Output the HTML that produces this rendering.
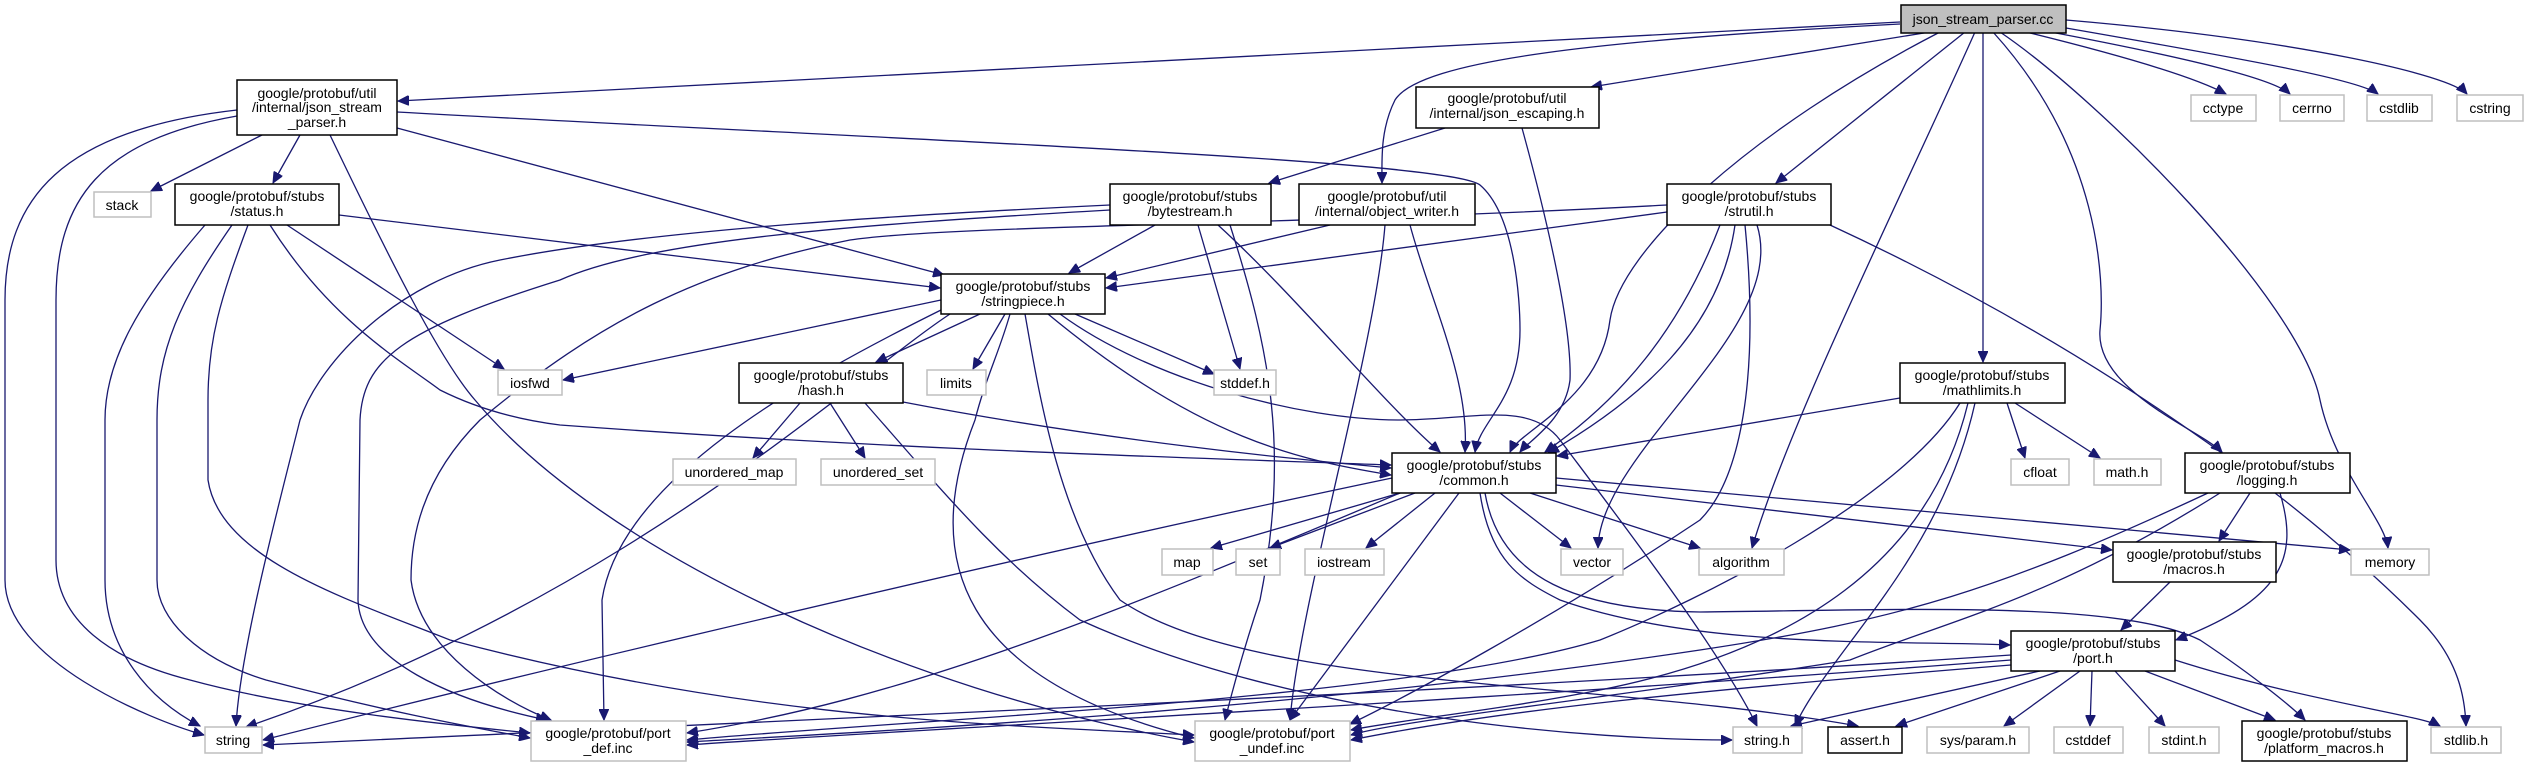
<!DOCTYPE html>
<html><head><meta charset="utf-8"><style>
html,body{margin:0;padding:0;background:#fff;}
svg{display:block;}
text{font-family:"Liberation Sans",sans-serif;font-size:14px;fill:#000;text-anchor:middle;}
.e{fill:none;stroke:#191970;stroke-width:1.3;marker-end:url(#a);}
.n{fill:#fff;stroke:#000;stroke-width:1.5;}
.g{fill:#fff;stroke:#bfbfbf;stroke-width:1.5;}
</style></head><body>
<svg width="2530" height="767" viewBox="0 0 2530 767" xmlns="http://www.w3.org/2000/svg">
<defs><marker id="a" markerUnits="userSpaceOnUse" markerWidth="12" markerHeight="10" refX="11" refY="5" orient="auto"><path d="M0,0 L11,5 L0,10 z" fill="#191970" stroke="#191970"/></marker></defs>

<!-- edges from cc -->
<path class="e" d="M1900,22 L398,101"/>
<path class="e" d="M1900,24 C1600,40 1420,60 1395,100 C1380,130 1382,160 1382,183"/>
<path class="e" d="M1930,32 L1591,87"/>
<path class="e" d="M1940,32 C1750,130 1620,250 1610,320 C1600,400 1520,430 1510,452"/>
<path class="e" d="M1965,32 L1776,183"/>
<path class="e" d="M1975,32 C1900,200 1790,420 1752,548"/>
<path class="e" d="M1983,32 L1983,362"/>
<path class="e" d="M1993,32 C2100,150 2105,280 2100,330 C2095,390 2200,430 2222,452"/>
<path class="e" d="M2000,32 C2100,100 2300,300 2320,400 C2335,470 2385,520 2388,548"/>
<path class="e" d="M2026,32 C2140,60 2200,80 2226,94"/>
<path class="e" d="M2040,30 C2200,60 2275,80 2290,94"/>
<path class="e" d="M2066,28 C2250,60 2360,80 2378,94"/>
<path class="e" d="M2066,20 C2300,40 2450,75 2467,94"/>

<!-- json_stream_parser.h -->
<path class="e" d="M262,135 L151,191"/>
<path class="e" d="M300,135 L273,183"/>
<path class="e" d="M397,128 L944,275"/>
<path class="e" d="M397,112 C900,140 1450,160 1480,185 C1515,215 1520,300 1520,330 C1520,400 1480,420 1475,452"/>
<path class="e" d="M237,110 C60,130 5,200 5,300 L5,580 C5,660 150,720 204,735"/>
<path class="e" d="M237,116 C100,140 56,200 56,300 L56,560 C56,620 110,660 190,680 C300,710 450,725 530,733"/>
<path class="e" d="M330,135 C390,260 440,360 475,400 C600,550 900,690 1194,742"/>

<!-- status.h -->
<path class="e" d="M339,215 L940,288"/>
<path class="e" d="M287,225 L504,369"/>
<path class="e" d="M270,225 C330,320 400,360 440,390 C480,410 520,420 560,425 C900,450 1200,458 1391,465"/>
<path class="e" d="M205,225 C140,300 105,360 105,420 L105,580 C105,650 150,700 200,726"/>
<path class="e" d="M232,225 C180,300 157,350 157,420 L157,580 C157,620 200,660 266,680 C380,710 460,725 530,738"/>
<path class="e" d="M248,225 C220,300 208,340 208,400 L208,480 C220,560 350,600 450,640 C750,720 1000,725 1194,735"/>

<!-- json_escaping.h -->
<path class="e" d="M1445,128 L1269,183"/>
<path class="e" d="M1522,128 C1550,230 1572,330 1570,380 C1565,420 1530,440 1520,452"/>

<!-- bytestream.h -->
<path class="e" d="M1155,225 L1069,273"/>
<path class="e" d="M1198,225 L1240,369"/>
<path class="e" d="M1218,225 C1300,300 1380,400 1440,452"/>
<path class="e" d="M1110,205 C900,215 650,230 500,260 C400,280 320,360 300,420 C280,500 240,650 236,726"/>
<path class="e" d="M1110,210 C850,225 650,240 560,280 C400,330 363,360 360,420 L358,600 C360,660 450,700 547,720"/>
<path class="e" d="M1230,225 C1270,350 1290,450 1260,600 C1240,660 1230,700 1225,720"/>

<!-- object_writer.h -->
<path class="e" d="M1330,225 L1106,278"/>
<path class="e" d="M1410,225 C1430,300 1470,380 1465,452"/>
<path class="e" d="M1385,225 C1375,350 1300,600 1290,720"/>

<!-- strutil.h -->
<path class="e" d="M1667,212 L1106,288"/>
<path class="e" d="M1667,205 C1300,225 950,225 850,240 C700,270 600,320 480,420 C420,480 411,540 411,580 C420,650 500,700 551,720"/>
<path class="e" d="M1720,225 C1680,330 1620,400 1545,452"/>
<path class="e" d="M1735,225 C1720,330 1640,400 1548,453"/>
<path class="e" d="M1757,225 C1790,330 1600,450 1598,548"/>
<path class="e" d="M1745,225 C1760,380 1740,480 1700,520 C1550,620 1400,700 1350,724"/>
<path class="e" d="M1830,225 C2100,350 2300,500 2420,620 C2460,660 2465,700 2466,726"/>

<!-- stringpiece.h -->
<path class="e" d="M941,300 L563,380"/>
<path class="e" d="M980,314 L876,362"/>
<path class="e" d="M1005,314 L973,369"/>
<path class="e" d="M1075,314 L1214,374"/>
<path class="e" d="M1048,314 C1200,440 1300,460 1391,475"/>
<path class="e" d="M1060,314 C1150,380 1300,420 1400,420 C1470,420 1530,400 1560,440 C1620,520 1720,650 1757,726"/>
<path class="e" d="M950,314 C850,380 620,600 246,727"/>
<path class="e" d="M941,310 C800,380 620,480 602,600 L604,720"/>
<path class="e" d="M1010,314 C1000,350 985,380 975,420 C920,560 960,680 1194,738"/>
<path class="e" d="M1025,314 C1040,400 1060,520 1120,600 C1250,690 1600,680 1858,726"/>

<!-- hash.h -->
<path class="e" d="M800,403 L753,458"/>
<path class="e" d="M830,403 L865,458"/>
<path class="e" d="M903,402 C1100,440 1300,460 1391,468"/>
<path class="e" d="M865,403 C950,500 1000,560 1080,620 C1300,720 1600,740 1732,740"/>

<!-- common.h -->
<path class="e" d="M1400,493 L1211,548"/>
<path class="e" d="M1415,493 L1270,548"/>
<path class="e" d="M1435,493 L1366,548"/>
<path class="e" d="M1500,493 L1571,548"/>
<path class="e" d="M1530,493 L1700,548"/>
<path class="e" d="M1556,478 L2350,550"/>
<path class="e" d="M1556,485 L2112,550"/>
<path class="e" d="M1480,493 C1490,560 1520,580 1560,600 C1700,650 1900,640 2010,645"/>
<path class="e" d="M1485,493 C1500,580 1580,610 1700,612 C1900,610 2120,600 2200,640 C2260,680 2295,710 2305,720"/>
<path class="e" d="M1392,478 C1000,560 500,680 263,740"/>
<path class="e" d="M1400,493 C1100,620 900,700 687,733"/>
<path class="e" d="M1459,493 L1290,720"/>

<!-- mathlimits.h -->
<path class="e" d="M1900,398 L1557,456"/>
<path class="e" d="M2007,403 L2025,458"/>
<path class="e" d="M2015,403 L2100,458"/>
<path class="e" d="M1975,403 C1940,560 1830,650 1795,726"/>
<path class="e" d="M1960,403 C1900,500 1700,600 1600,640 C1400,700 900,720 687,740"/>
<path class="e" d="M1968,403 C1930,560 1800,650 1600,690 C1500,710 1400,720 1351,730"/>

<!-- logging.h -->
<path class="e" d="M2250,493 L2219,541"/>
<path class="e" d="M2280,493 C2300,560 2280,600 2176,640"/>
<path class="e" d="M2208,493 C2000,590 1900,620 1700,650 C1300,710 900,730 687,742"/>
<path class="e" d="M2220,493 C2050,600 1950,620 1850,660 C1600,700 1400,720 1351,735"/>

<!-- macros.h -->
<path class="e" d="M2170,582 L2121,630"/>

<!-- port.h -->
<path class="e" d="M2011,655 C1500,690 800,720 263,745"/>
<path class="e" d="M2011,660 C1500,700 900,730 687,745"/>
<path class="e" d="M2011,665 C1700,690 1500,710 1351,740"/>
<path class="e" d="M2040,671 L1791,726"/>
<path class="e" d="M2060,671 L1896,726"/>
<path class="e" d="M2080,671 L2004,726"/>
<path class="e" d="M2092,671 L2090,726"/>
<path class="e" d="M2115,671 L2165,726"/>
<path class="e" d="M2145,671 L2275,720"/>
<path class="e" d="M2175,660 C2300,700 2420,715 2440,726"/>

<!-- nodes -->
<rect x="1901" y="5" width="165" height="28" fill="#bfbfbf" stroke="#000" stroke-width="1.5"/>
<text x="1983" y="24">json_stream_parser.cc</text>

<rect class="n" x="237" y="80" width="160" height="55"/>
<text x="317" y="98">google/protobuf/util</text><text x="317" y="112">/internal/json_stream</text><text x="317" y="127">_parser.h</text>

<rect class="n" x="1416" y="87" width="183" height="41"/>
<text x="1507" y="103">google/protobuf/util</text><text x="1507" y="118">/internal/json_escaping.h</text>

<rect class="g" x="2191" y="95" width="65" height="26"/><text x="2223" y="113">cctype</text>
<rect class="g" x="2280" y="95" width="64" height="26"/><text x="2312" y="113">cerrno</text>
<rect class="g" x="2367" y="95" width="65" height="26"/><text x="2399" y="113">cstdlib</text>
<rect class="g" x="2457" y="95" width="66" height="26"/><text x="2490" y="113">cstring</text>

<rect class="g" x="94" y="192" width="57" height="25"/><text x="122" y="210">stack</text>

<rect class="n" x="175" y="184" width="164" height="41"/>
<text x="257" y="201">google/protobuf/stubs</text><text x="257" y="216">/status.h</text>

<rect class="n" x="1110" y="184" width="161" height="41"/>
<text x="1190" y="201">google/protobuf/stubs</text><text x="1190" y="216">/bytestream.h</text>

<rect class="n" x="1299" y="184" width="176" height="41"/>
<text x="1387" y="201">google/protobuf/util</text><text x="1387" y="216">/internal/object_writer.h</text>

<rect class="n" x="1667" y="184" width="164" height="41"/>
<text x="1749" y="201">google/protobuf/stubs</text><text x="1749" y="216">/strutil.h</text>

<rect class="n" x="941" y="274" width="164" height="40"/>
<text x="1023" y="291">google/protobuf/stubs</text><text x="1023" y="306">/stringpiece.h</text>

<rect class="g" x="498" y="370" width="64" height="25"/><text x="530" y="388">iosfwd</text>

<rect class="n" x="739" y="363" width="164" height="40"/>
<text x="821" y="380">google/protobuf/stubs</text><text x="821" y="395">/hash.h</text>

<rect class="g" x="927" y="370" width="59" height="25"/><text x="956" y="388">limits</text>
<rect class="g" x="1214" y="370" width="62" height="25"/><text x="1245" y="388">stddef.h</text>

<rect class="n" x="1900" y="363" width="165" height="40"/>
<text x="1982" y="380">google/protobuf/stubs</text><text x="1982" y="395">/mathlimits.h</text>

<rect class="g" x="673" y="459" width="123" height="26"/><text x="734" y="477">unordered_map</text>
<rect class="g" x="821" y="459" width="114" height="26"/><text x="878" y="477">unordered_set</text>

<rect class="n" x="1392" y="453" width="164" height="40"/>
<text x="1474" y="470">google/protobuf/stubs</text><text x="1474" y="485">/common.h</text>

<rect class="g" x="2011" y="459" width="58" height="26"/><text x="2040" y="477">cfloat</text>
<rect class="g" x="2094" y="459" width="67" height="26"/><text x="2127" y="477">math.h</text>

<rect class="n" x="2185" y="453" width="165" height="40"/>
<text x="2267" y="470">google/protobuf/stubs</text><text x="2267" y="485">/logging.h</text>

<rect class="g" x="1162" y="549" width="51" height="26"/><text x="1187" y="567">map</text>
<rect class="g" x="1236" y="549" width="44" height="26"/><text x="1258" y="567">set</text>
<rect class="g" x="1305" y="549" width="79" height="26"/><text x="1344" y="567">iostream</text>
<rect class="g" x="1561" y="549" width="62" height="26"/><text x="1592" y="567">vector</text>
<rect class="g" x="1699" y="549" width="85" height="26"/><text x="1741" y="567">algorithm</text>

<rect class="n" x="2113" y="542" width="163" height="40"/>
<text x="2194" y="559">google/protobuf/stubs</text><text x="2194" y="574">/macros.h</text>

<rect class="g" x="2351" y="549" width="78" height="26"/><text x="2390" y="567">memory</text>

<rect class="n" x="2011" y="631" width="164" height="40"/>
<text x="2093" y="648">google/protobuf/stubs</text><text x="2093" y="663">/port.h</text>

<rect class="g" x="205" y="727" width="57" height="26"/><text x="233" y="745">string</text>

<rect class="g" x="531" y="721" width="155" height="40"/>
<text x="608" y="738">google/protobuf/port</text><text x="608" y="753">_def.inc</text>

<rect class="g" x="1195" y="721" width="155" height="40"/>
<text x="1272" y="738">google/protobuf/port</text><text x="1272" y="753">_undef.inc</text>

<rect class="g" x="1733" y="727" width="69" height="26"/><text x="1767" y="745">string.h</text>
<rect class="n" x="1828" y="727" width="74" height="26"/><text x="1865" y="745">assert.h</text>
<rect class="g" x="1927" y="727" width="102" height="26"/><text x="1978" y="745">sys/param.h</text>
<rect class="g" x="2054" y="727" width="69" height="26"/><text x="2088" y="745">cstddef</text>
<rect class="g" x="2149" y="727" width="70" height="26"/><text x="2184" y="745">stdint.h</text>

<rect class="n" x="2242" y="721" width="165" height="40"/>
<text x="2324" y="738">google/protobuf/stubs</text><text x="2324" y="753">/platform_macros.h</text>

<rect class="g" x="2431" y="727" width="70" height="26"/><text x="2466" y="745">stdlib.h</text>
</svg>
</body></html>
